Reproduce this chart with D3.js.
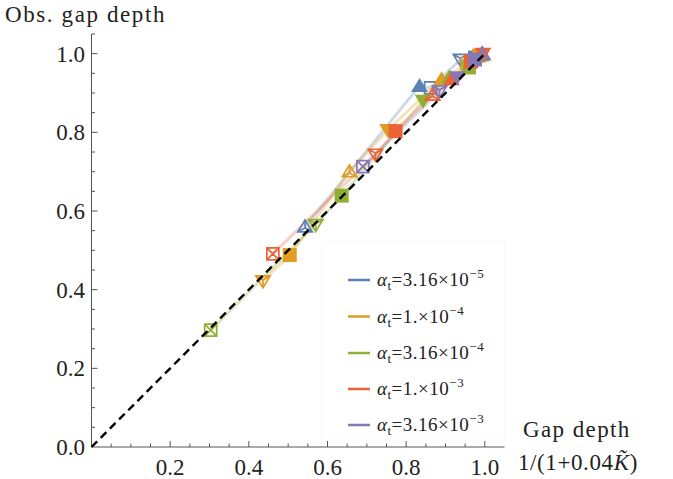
<!DOCTYPE html>
<html>
<head>
<meta charset="utf-8">
<script src="https://cdn.jsdelivr.net/npm/d3@7"></script>
<style>
  body { margin: 0; background: #fff; }
  text { font-family: "Liberation Serif", "Times New Roman", serif; fill: #222; }
</style>
</head>
<body>
<svg id="chart"></svg>
<script>
// series: alpha_t values, colours from the default mathematica palette
var seriesNames = ["3.16", "1.", "3.16", "1.", "3.16"];
var seriesExp = ["\u22125", "\u22124", "\u22124", "\u22123", "\u22123"];
var seriesColors = ["#5E81B5", "#E19C24", "#8FB032", "#EB6235", "#8778B3"];

// expected gap depth 1/(1+0.04K)
var blueX   = [0.543, 0.834, 0.862, 0.938, 0.975, 0.993];
var orangeX = [0.436, 0.504, 0.656, 0.753, 0.890, 0.955, 0.985];
var greenX  = [0.303, 0.570, 0.636, 0.843, 0.910, 0.960, 0.990];
var redX    = [0.461, 0.722, 0.773, 0.867, 0.915, 0.965, 0.995];
var purpleX = [0.690, 0.885, 0.930, 0.975, 0.995];

// observed gap depth
var blueY   = [0.560, 0.918, 0.913, 0.985, 0.990, 1.000];
var orangeY = [0.422, 0.488, 0.700, 0.806, 0.935, 0.975, 0.995];
var greenY  = [0.297, 0.565, 0.639, 0.880, 0.940, 0.965, 0.995];
var redY    = [0.491, 0.744, 0.803, 0.895, 0.935, 0.980, 1.000];
var purpleY = [0.713, 0.905, 0.940, 0.985, 0.998];

// marker per point
var blueM   = ["openUp", "fillUp", "openSq", "openDown", "fillSq", "openUp"];
var orangeM = ["openDown", "fillSq", "openUp", "fillDown", "fillUp", "openSq", "fillSq"];
var greenM  = ["openSqX", "openDown", "fillSq", "fillDown", "fillUp", "fillSq", "openUp"];
var redM    = ["openSqX", "openDown", "fillSq", "openUp", "fillUp", "fillSq", "fillDown"];
var purpleM = ["openSqX", "openDown", "fillDown", "fillSq", "openUp"];

var xMajor = [0.2, 0.4, 0.6, 0.8, 1.0];
var yMajor = [0.0, 0.2, 0.4, 0.6, 0.8, 1.0];

var allX = [blueX, orangeX, greenX, redX, purpleX];
var allY = [blueY, orangeY, greenY, redY, purpleY];
var allM = [blueM, orangeM, greenM, redM, purpleM];

var width = 673, height = 479;

var svg = d3.select("#chart").attr("width", width).attr("height", height);

var x = d3.scaleLinear().domain([0, 1.05]).range([91.5, 504.5]);
var y = d3.scaleLinear().domain([0, 1.05]).range([447, 34]);

var series = allX.map(function(xs, i) {
    return xs.map(function(v, j) {
        return { x: v, y: allY[i][j], m: allM[i][j], c: seriesColors[i] };
    });
});

// minor ticks every 0.05
var minor = d3.range(1, 22).map(function(k) { return k * 0.05; });

var axisCol = "#555";

// x axis
var gx = svg.append("g");
gx.append("line").attr("x1", x(0)).attr("x2", x(1.05)).attr("y1", y(0)).attr("y2", y(0))
    .attr("stroke", axisCol).attr("stroke-width", 1);
gx.selectAll(".mt").data(minor.filter(function(v) { return v < 1.04; })).enter().append("line")
    .attr("x1", function(d) { return x(d); }).attr("x2", function(d) { return x(d); })
    .attr("y1", y(0)).attr("y2", function(d) {
        return y(0) - (Math.abs(d * 5 - Math.round(d * 5)) < 1e-6 ? 6 : 3.5);
    })
    .attr("stroke", axisCol).attr("stroke-width", 1);
gx.selectAll("text").data(xMajor).enter().append("text")
    .attr("x", function(d) { return x(d); })
    .attr("y", 475)
    .attr("text-anchor", "middle")
    .style("font-size", "23px")
    .text(function(d) { return d3.format(".1f")(d); });

// y axis
var gy = svg.append("g");
gy.append("line").attr("x1", x(0)).attr("x2", x(0)).attr("y1", y(0)).attr("y2", y(1.05))
    .attr("stroke", axisCol).attr("stroke-width", 1);
gy.selectAll(".mt").data(minor).enter().append("line")
    .attr("y1", function(d) { return y(d); }).attr("y2", function(d) { return y(d); })
    .attr("x1", x(0)).attr("x2", function(d) {
        return x(0) + (Math.abs(d * 5 - Math.round(d * 5)) < 1e-6 ? 6 : 3.5);
    })
    .attr("stroke", axisCol).attr("stroke-width", 1);
gy.selectAll("text").data(yMajor).enter().append("text")
    .attr("x", 85)
    .attr("y", function(d) { return y(d) + 8; })
    .attr("text-anchor", "end")
    .style("font-size", "23px")
    .text(function(d) { return d3.format(".1f")(d); });

// axis titles
svg.append("text").attr("x", 5).attr("y", 22).style("font-size", "23px")
    .style("letter-spacing", "1.6px").text("Obs. gap depth");
svg.append("text").attr("x", 523).attr("y", 437).style("font-size", "23px")
    .style("letter-spacing", "1.4px").text("Gap depth");
var xl = svg.append("text").attr("x", 518).attr("y", 470).style("font-size", "23px")
    .style("letter-spacing", "0.6px");
xl.append("tspan").text("1/(1+0.04");
xl.append("tspan").style("font-style", "italic").text("K\u0303");
xl.append("tspan").text(")");

// connecting lines, light
var line = d3.line().x(function(d) { return x(d.x); }).y(function(d) { return y(d.y); });
svg.append("g").selectAll("path").data(series).enter().append("path")
    .attr("d", line)
    .attr("fill", "none")
    .attr("stroke", function(d) { return d[0].c; })
    .attr("stroke-opacity", 0.3)
    .attr("stroke-width", 3);

// marker shapes
function markerPath(m) {
    var p = d3.path();
    if (m == "fillUp" || m == "openUp") {
        var s = m == "fillUp" ? 1 : 0.85;
        p.moveTo(0, -8 * s); p.lineTo(8.5 * s, 6 * s); p.lineTo(-8.5 * s, 6 * s); p.closePath();
        if (m == "openUp") {
            p.moveTo(0, -8 * s); p.lineTo(0, 1.5 * s);
            p.moveTo(8.5 * s, 6 * s); p.lineTo(0, 1.5 * s);
            p.moveTo(-8.5 * s, 6 * s); p.lineTo(0, 1.5 * s);
        }
    } else if (m == "fillDown" || m == "openDown") {
        var s2 = m == "fillDown" ? 1 : 0.85;
        p.moveTo(0, 8 * s2); p.lineTo(8.5 * s2, -6 * s2); p.lineTo(-8.5 * s2, -6 * s2); p.closePath();
        if (m == "openDown") {
            p.moveTo(0, 8 * s2); p.lineTo(0, -1.5 * s2);
            p.moveTo(8.5 * s2, -6 * s2); p.lineTo(0, -1.5 * s2);
            p.moveTo(-8.5 * s2, -6 * s2); p.lineTo(0, -1.5 * s2);
        }
    } else if (m == "fillSq") {
        p.rect(-7, -7, 14, 14);
    } else {
        p.rect(-6, -6, 12, 12);
        if (m == "openSqX") {
            p.moveTo(-6, -6); p.lineTo(6, 6);
            p.moveTo(6, -6); p.lineTo(-6, 6);
        }
    }
    return p.toString();
}

var pts = [];
series.forEach(function(s) { s.forEach(function(d) { pts.push(d); }); });

svg.append("g").selectAll("path").data(pts).enter().append("path")
    .attr("transform", function(d) { return "translate(" + x(d.x) + "," + y(d.y) + ")"; })
    .attr("d", function(d) { return markerPath(d.m); })
    .attr("fill", function(d) { return d.m.indexOf("fill") == 0 ? d.c : "none"; })
    .attr("stroke", function(d) { return d.m.indexOf("fill") == 0 ? "none" : d.c; })
    .attr("stroke-width", 1.7);

// reference diagonal
svg.append("line")
    .attr("x1", x(0)).attr("y1", y(0)).attr("x2", x(1)).attr("y2", y(1))
    .attr("stroke", "#000").attr("stroke-width", 2.4)
    .attr("stroke-dasharray", "8,5");

// legend
var lg = svg.append("g");
lg.append("rect").attr("x", 322).attr("y", 242).attr("width", 183).attr("height", 198)
    .attr("fill", "#fff").attr("fill-opacity", 0.85).attr("stroke", "#f7f7f7");
var rowY = [280, 316.5, 353, 389, 425];
seriesNames.forEach(function(nm, i) {
    lg.append("line").attr("x1", 348).attr("x2", 370).attr("y1", rowY[i]).attr("y2", rowY[i])
        .attr("stroke", seriesColors[i]).attr("stroke-width", 2.5);
    var t = lg.append("text").attr("x", 377).attr("y", rowY[i] + 6)
        .style("font-size", "19px").style("letter-spacing", "0.5px");
    t.append("tspan").style("font-style", "italic").text("\u03b1");
    t.append("tspan").attr("dy", 4).style("font-size", "13px").text("t");
    t.append("tspan").attr("dy", -4).text("=" + nm + "\u00d710");
    t.append("tspan").attr("dy", -8).style("font-size", "13px").text(seriesExp[i]);
});
</script>
</body>
</html>
